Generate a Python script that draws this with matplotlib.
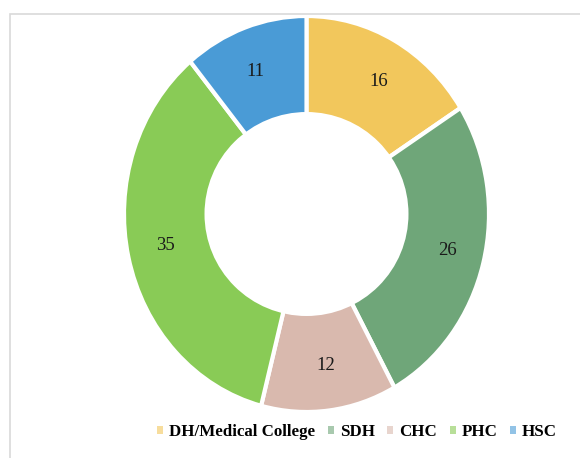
import matplotlib
matplotlib.use("Agg")
import matplotlib.pyplot as plt
from matplotlib.patches import Rectangle, Ellipse
import numpy as np

labels = ["DH/Medical College", "SDH", "CHC", "PHC", "HSC"]
values = [16, 26, 12, 35, 11]
colors = ["#F2C75C", "#6FA679", "#D9B9AE", "#89CB56", "#4A9BD6"]

fig = plt.figure(figsize=(5.8, 4.58), dpi=100)
W, H = 580, 458

# light frame around chart area
fig.patches.append(Rectangle((10 / W, -0.1), 1.2, 1 - 14 / H + 0.1,
                             transform=fig.transFigure, fill=False,
                             edgecolor="#D9D9D9", linewidth=1.2))

# axes placed in pixels (outer ring slightly stretched vertically, hole is round)
x0, x1, y0, y1 = 124, 489, 16, 412
rx, ry = (x1 - x0) / 2, (y1 - y0) / 2
hole = 102
ax = fig.add_axes([x0 / W, 1 - y1 / H, (x1 - x0) / W, (y1 - y0) / H])
wedges, _ = ax.pie(values, colors=colors, startangle=90, counterclock=False,
                   radius=1, wedgeprops=dict(edgecolor="white", linewidth=3))
ax.add_patch(Ellipse((0, 0), 2 * hole / rx, 2 * hole / ry, facecolor="white",
                     edgecolor="none", zorder=5))
ax.set_aspect("auto")
ax.set_xlim(-1, 1)
ax.set_ylim(-1, 1)
ax.axis("off")

for v, w in zip(values, wedges):
    mid = np.deg2rad((w.theta1 + w.theta2) / 2)
    c, s = np.cos(mid), np.sin(mid)
    outer = 1 / np.sqrt((c / rx) ** 2 + (s / ry) ** 2)
    r = hole + 0.53 * (outer - hole)
    ax.text(r * c / rx, r * s / ry, str(v), ha="center", va="center",
            fontsize=13.5, family="Liberation Serif", color="#1a1a1a", zorder=6)

leg = fig.legend(wedges, labels, loc="center", bbox_to_anchor=(357 / W, 1 - 432 / H),
                 ncol=5, frameon=False, handlelength=0.35, handleheight=0.35,
                 handletextpad=0.35, columnspacing=0.75,
                 prop=dict(family="Liberation Serif", weight="bold", size=12.2))
for h in leg.legend_handles:
    h.set_linewidth(0)
    h.set_alpha(0.6)

fig.savefig("out.png", dpi=100)
